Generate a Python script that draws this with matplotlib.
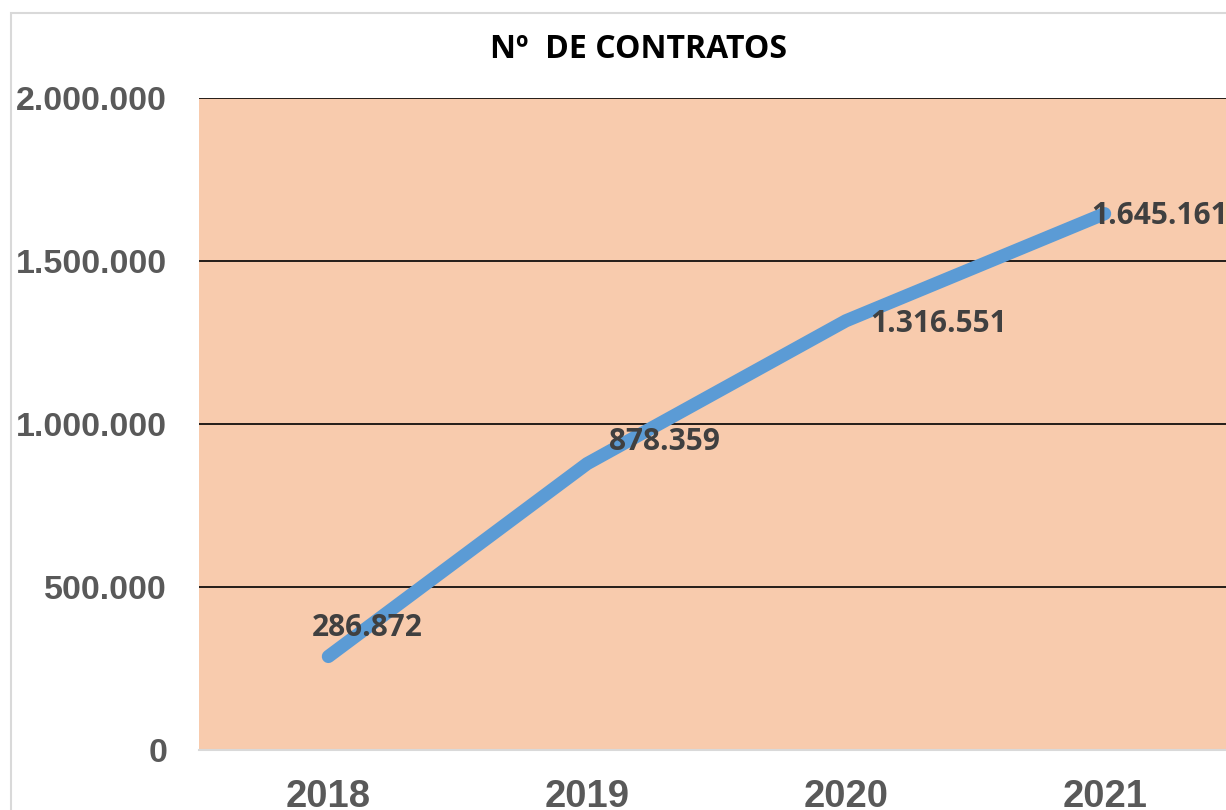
import matplotlib
matplotlib.use("Agg")
import matplotlib.pyplot as plt
from matplotlib.patches import Rectangle

years = ["2018", "2019", "2020", "2021"]
contratos = [286872, 878359, 1316551, 1645161]
labels = ["286.872", "878.359", "1.316.551", "1.645.161"]
yticks = [0, 500000, 1000000, 1500000, 2000000]
ytick_labels = ["0", "500.000", "1.000.000", "1.500.000", "2.000.000"]

W, H = 1226, 810
fig = plt.figure(figsize=(W / 100, H / 100), dpi=100)
fig.patch.set_facecolor("white")

# outer chart border
fig.patches.append(Rectangle((11 / W, -0.05), 1.2, 1 - 13 / H + 0.05, transform=fig.transFigure,
                             fill=False, edgecolor="#D9D9D9", linewidth=1.5, zorder=0))

ax = fig.add_axes([199 / W, 60 / H, 1035 / W, 652 / H])
ax.set_facecolor("#F8CBAD")
x = list(range(len(years)))
ax.set_xlim(-0.5, len(years) - 0.5)
ax.set_ylim(0, 2000000)
ax.set_yticks(yticks)
ax.set_yticklabels(ytick_labels)
ax.set_xticks(x)
ax.set_xticklabels(years)
ax.grid(axis="y", color="black", linewidth=1.2)
ax.set_axisbelow(True)
for s in ["left", "right", "top"]:
    ax.spines[s].set_visible(False)
ax.spines["bottom"].set_color("#D9D9D9")
ax.spines["bottom"].set_linewidth(1.5)
ax.tick_params(axis="both", length=0, colors="#595959")
ax.tick_params(axis="y", pad=23)
ax.tick_params(axis="x", pad=21)
for t in ax.get_yticklabels():
    t.set_fontfamily("Liberation Sans")
    t.set_fontweight("bold")
    t.set_fontsize(24.5)
for t in ax.get_xticklabels():
    t.set_fontfamily("Liberation Sans")
    t.set_fontweight("bold")
    t.set_fontsize(27.5)

ax.plot(x, contratos, color="#5B9BD5", linewidth=9.5, solid_capstyle="round",
        solid_joinstyle="round", zorder=3)

offsets = [(-17, 28), (22, 22), (24, -3), (-13, -2)]
for xi, v, lab, off in zip(x, contratos, labels, offsets):
    ax.annotate(lab, (xi, v), xytext=(off[0] * 0.72, off[1] * 0.72), textcoords="offset points",
                ha="left", va="center", fontsize=21.5, fontweight="bold", color="#404040",
                fontfamily="Open Sans", zorder=4, annotation_clip=False)

fig.text(638 / W, 1 - 49 / H, "Nº  DE CONTRATOS", ha="center", va="center",
         fontsize=23, fontweight="bold", color="black", fontfamily="Open Sans")

fig.savefig("out.png", dpi=100)
